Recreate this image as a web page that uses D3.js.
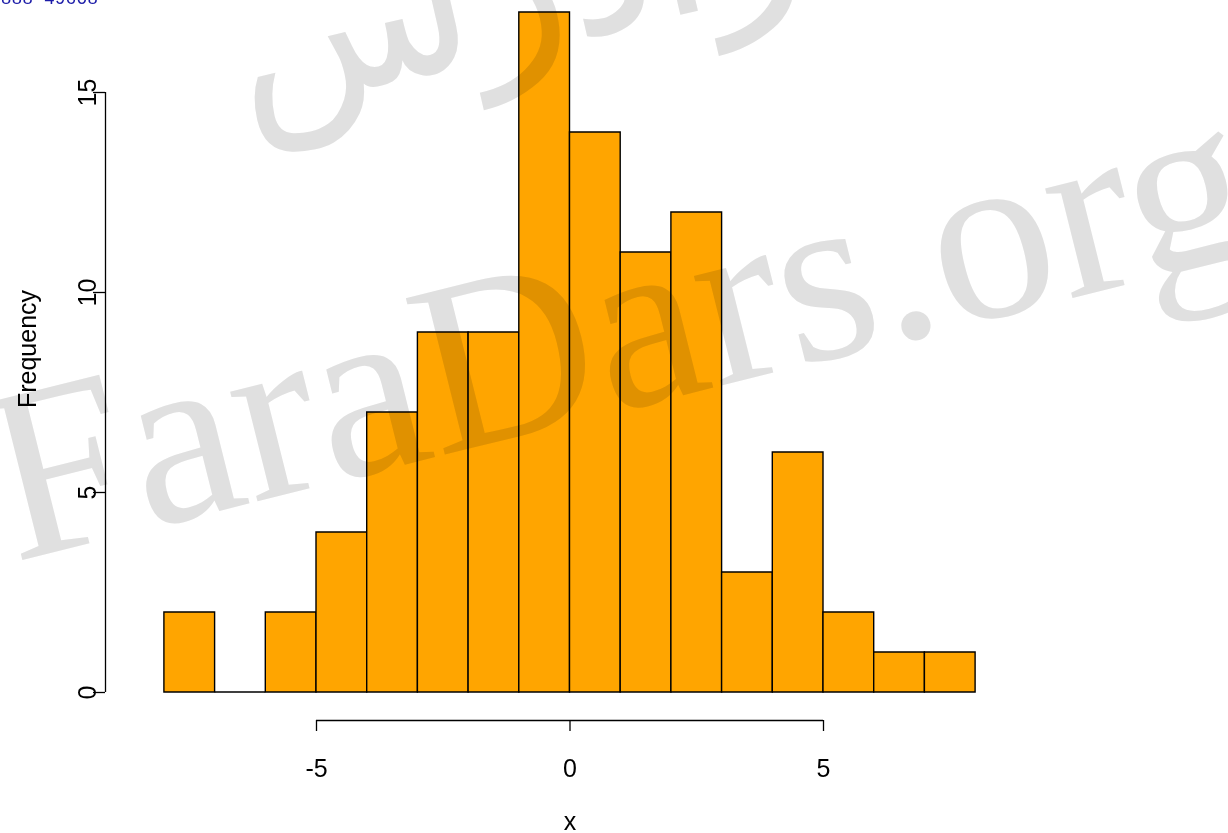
<!DOCTYPE html>
<html>
<head>
<meta charset="utf-8">
<script src="https://cdn.jsdelivr.net/npm/d3@7"></script>
<style>
body { margin: 0; background: #fff; }
svg { display: block; }
</style>
</head>
<body>
<svg id="hist" width="1228" height="833"></svg>
<script>
// histogram bins (R hist of x, breaks of width 1)
var breaks = [-8, -7, -6, -5, -4, -3, -2, -1, 0, 1, 2, 3, 4, 5, 6, 7, 8]
var counts = [2, 0, 2, 4, 7, 9, 9, 17, 14, 11, 12, 3, 6, 2, 1, 1]
var xTicks = [-5, 0, 5]
var yTicks = [0, 5, 10, 15]
var xLabel = 'x'
var yLabel = 'Frequency'

function hist(){
	var svg = d3.select('svg#hist')
	var font = '"Liberation Sans", Arial, sans-serif'

	var bins = counts.map(function(c, i){
		return {x0: breaks[i], x1: breaks[i+1], n: c}
	})

	var x = d3.scaleLinear()
		.domain([-5, 5])
		.range([316, 823])
	var y = d3.scaleLinear()
		.domain([0, 15])
		.range([692, 92])

	// bars as paths so the empty bin still shows its outline
	svg.append('g')
		.selectAll('path')
		.data(bins)
		.enter()
		.append('path')
		.attr('d', function(d){
			return 'M' + x(d.x0) + ',' + y(0) + 'H' + x(d.x1) + 'V' + y(d.n) + 'H' + x(d.x0) + 'Z'
		})
		.style('fill', '#FFA500')
		.style('stroke', '#000')
		.style('stroke-width', '1.4')

	// x axis, R style: offset below the plot, line only spans the ticks
	var gx = svg.append('g')
		.attr('transform', 'translate(0,720)')
		.call(d3.axisBottom(x).tickValues(xTicks).tickSize(11).tickPadding(28).tickSizeOuter(0)
			.tickFormat(function(d){return String(d)}))
	gx.select('.domain').remove()
	gx.append('line')
		.attr('x1', x(xTicks[0])).attr('x2', x(xTicks[xTicks.length-1]))
		.attr('y1', 0.5).attr('y2', 0.5)
		.style('stroke', '#000').style('stroke-width', '1.3')
	gx.selectAll('.tick line').style('stroke-width', '1.3')
	gx.selectAll('.tick text')
		.style('font-family', font)
		.style('font-size', '25px')
		.style('fill', '#000')

	// y axis
	var gy = svg.append('g')
		.attr('transform', 'translate(105,0)')
		.call(d3.axisLeft(y).tickValues(yTicks).tickSize(12).tickSizeOuter(0))
	gy.select('.domain').remove()
	gy.append('line')
		.attr('x1', 0.5).attr('x2', 0.5)
		.attr('y1', y(yTicks[0])).attr('y2', y(yTicks[yTicks.length-1]))
		.style('stroke', '#000').style('stroke-width', '1.3')
	gy.selectAll('.tick line').style('stroke-width', '1.3')
	gy.selectAll('.tick text')
		.attr('x', null).attr('dy', null)
		.attr('text-anchor', 'middle')
		.attr('transform', 'translate(-9,0) rotate(-90)')
		.style('font-family', font)
		.style('font-size', '25px')
		.style('fill', '#000')

	// axis titles
	svg.append('text')
		.attr('x', 570).attr('y', 830)
		.attr('text-anchor', 'middle')
		.style('font-family', font).style('font-size', '25px')
		.text(xLabel)
	svg.append('text')
		.attr('transform', 'translate(36,349) rotate(-90)')
		.attr('text-anchor', 'middle')
		.style('font-family', font).style('font-size', '25px')
		.text(yLabel)

	// watermarks
	var wm = svg.append('g').style('mix-blend-mode', 'multiply')
	wm.append('text')
		.attr('transform', 'translate(14,562) rotate(-14)')
		.style('font-family', '"Liberation Serif", "Times New Roman", serif')
		.style('font-size', '246px')
		.style('fill', '#e0e0e0')
		.text('FaraDars.org')
	wm.append('text')
		.attr('transform', 'translate(580,38) rotate(-13)')
		.attr('text-anchor', 'middle')
		.style('font-family', '"DejaVu Sans", sans-serif')
		.style('font-size', '200px')
		.style('fill', '#e0e0e0')
		.text('فرادرس')

	svg.append('text')
		.attr('x', 98).attr('y', 4)
		.attr('text-anchor', 'end')
		.style('font-family', '"Liberation Mono", monospace')
		.style('font-size', '18px')
		.style('fill', '#1c1ca8')
		.text('021-888 49608')
}
hist()
</script>
</body>
</html>
